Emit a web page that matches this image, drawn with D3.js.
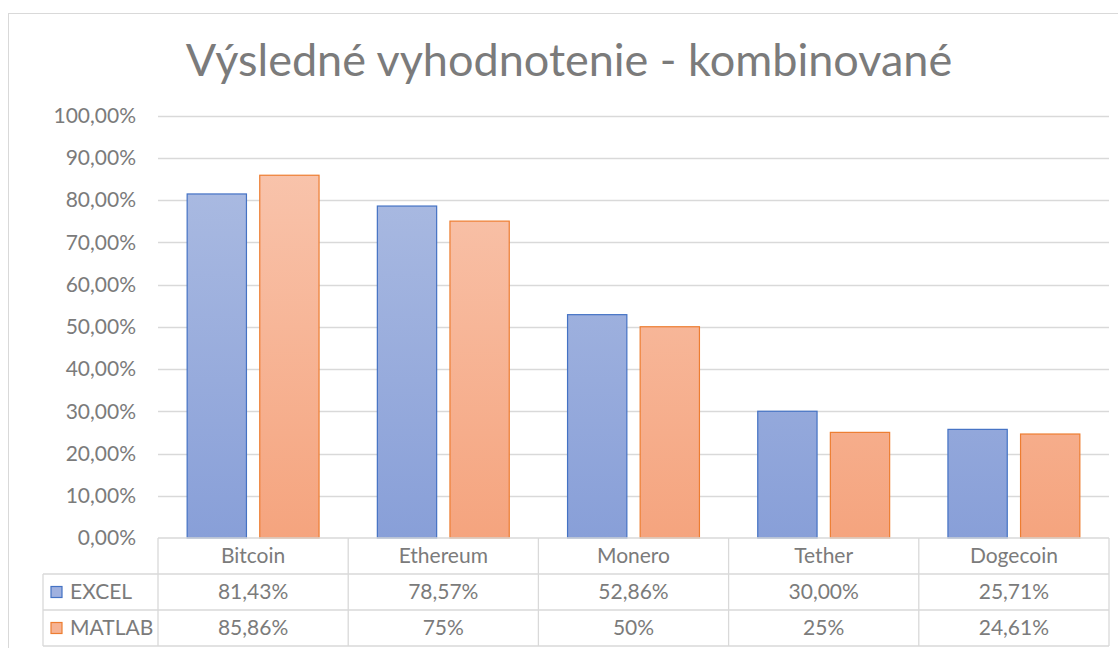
<!DOCTYPE html>
<html>
<head>
<meta charset="utf-8">
<script src="https://cdn.jsdelivr.net/npm/d3@7"></script>
<style>
  body { margin: 0; background: #fff; }
  text { font-family: Lato, "Open Sans", sans-serif; fill: #7b7b7b; }
</style>
</head>
<body>
<div id="chart"></div>
<script>
// data
var categories = ["Bitcoin", "Ethereum", "Monero", "Tether", "Dogecoin"];
var seriesNames = ["EXCEL", "MATLAB"];
var excelValues = [81.43, 78.57, 52.86, 30.00, 25.71];
var matlabValues = [85.86, 75, 50, 25, 24.61];
var excelLabels = ["81,43%", "78,57%", "52,86%", "30,00%", "25,71%"];
var matlabLabels = ["85,86%", "75%", "50%", "25%", "24,61%"];
var yTicks = [0, 10, 20, 30, 40, 50, 60, 70, 80, 90, 100];

var W = 1118, H = 648;
var plot = {left: 158, right: 1109, top: 115.5, bottom: 538};
var fontSize = "21px";

var svg = d3.select("#chart").append("svg")
  .attr("width", W).attr("height", H);

var defs = svg.append("defs");
function grad(id, top, bottom) {
  var g = defs.append("linearGradient").attr("id", id)
    .attr("x1", 0).attr("x2", 0)
    .attr("gradientUnits", "userSpaceOnUse")
    .attr("y1", plot.top).attr("y2", plot.bottom);
  g.append("stop").attr("offset", "0%").attr("stop-color", top);
  g.append("stop").attr("offset", "100%").attr("stop-color", bottom);
}
grad("gBlue", "#b0bfe3", "#889fd8");
grad("gOrange", "#f9c8b2", "#f5a47e");

// chart frame
svg.append("rect")
  .attr("x", 8.5).attr("y", 13.5).attr("width", W + 10).attr("height", H)
  .attr("fill", "none").attr("stroke", "#d9d9d9");

// title
svg.append("text")
  .attr("x", 569).attr("y", 76)
  .attr("text-anchor", "middle")
  .style("font-size", "45px")
  .text("Výsledné vyhodnotenie - kombinované");

var x0 = d3.scaleBand().domain(categories).range([plot.left, plot.right]);
var y = d3.scaleLinear().domain([0, 100]).range([plot.bottom, plot.top]);

// gridlines
svg.append("g").selectAll("line")
  .data(yTicks.slice(1))
  .join("line")
  .attr("x1", plot.left).attr("x2", plot.right)
  .attr("y1", d => Math.round(y(d)) + 0.5).attr("y2", d => Math.round(y(d)) + 0.5)
  .attr("stroke", "#d9d9d9").attr("stroke-width", 1.3);

// y axis labels
svg.append("g").selectAll("text")
  .data(yTicks)
  .join("text")
  .attr("x", 136).attr("y", d => y(d))
  .attr("dy", "0.35em")
  .attr("text-anchor", "end")
  .style("font-size", fontSize)
  .text(d => d.toFixed(2).replace(".", ",") + "%");

// bars
var barW = 59.3, gap = 13.3;
var offset = (x0.bandwidth() - 2 * barW - gap) / 2;
var series = [
  {name: seriesNames[0], values: excelValues, fill: "url(#gBlue)", key: "#a0b1df", stroke: "#4472c4"},
  {name: seriesNames[1], values: matlabValues, fill: "url(#gOrange)", key: "#f6b394", stroke: "#ed7d31"}
];
series.forEach(function (s, si) {
  svg.append("g").selectAll("rect")
    .data(s.values)
    .join("rect")
    .attr("x", (d, i) => x0(categories[i]) + offset + si * (barW + gap))
    .attr("y", d => y(d))
    .attr("width", barW)
    .attr("height", d => plot.bottom - y(d))
    .attr("fill", s.fill)
    .attr("stroke", s.stroke)
    .attr("stroke-width", 1.2);
});

// data table
var rowY = [538, 574, 610, 646];
var tableLeft = 43;
var tbl = svg.append("g").attr("stroke", "#d9d9d9").attr("stroke-width", 1.3);
tbl.append("line").attr("x1", plot.left).attr("x2", plot.right)
  .attr("y1", rowY[0]).attr("y2", rowY[0]);
[1, 2, 3].forEach(function (r) {
  tbl.append("line").attr("x1", tableLeft).attr("x2", plot.right)
    .attr("y1", rowY[r]).attr("y2", rowY[r]);
});
tbl.append("line").attr("x1", tableLeft).attr("x2", tableLeft)
  .attr("y1", rowY[1]).attr("y2", rowY[3]);
categories.forEach(function (c) {
  tbl.append("line").attr("x1", x0(c)).attr("x2", x0(c))
    .attr("y1", rowY[0]).attr("y2", rowY[3]);
});
tbl.append("line").attr("x1", plot.right).attr("x2", plot.right)
  .attr("y1", rowY[0]).attr("y2", rowY[3]);

// category header
svg.append("g").selectAll("text")
  .data(categories)
  .join("text")
  .attr("x", d => x0(d) + x0.bandwidth() / 2)
  .attr("y", (rowY[0] + rowY[1]) / 2)
  .attr("dy", "0.35em")
  .attr("text-anchor", "middle")
  .style("font-size", fontSize)
  .text(d => d);

// value rows
[excelLabels, matlabLabels].forEach(function (labels, r) {
  svg.append("g").selectAll("text")
    .data(labels)
    .join("text")
    .attr("x", (d, i) => x0(categories[i]) + x0.bandwidth() / 2)
    .attr("y", (rowY[r + 1] + rowY[r + 2]) / 2)
    .attr("dy", "0.35em")
    .attr("text-anchor", "middle")
    .style("font-size", fontSize)
    .text(d => d);
});

// legend keys in table
series.forEach(function (s, r) {
  var cy = (rowY[r + 1] + rowY[r + 2]) / 2;
  svg.append("rect")
    .attr("x", 51).attr("y", cy - 5.5)
    .attr("width", 11).attr("height", 11)
    .attr("fill", s.key)
    .attr("stroke", s.stroke).attr("stroke-width", 1.2);
  svg.append("text")
    .attr("x", 70).attr("y", cy)
    .attr("dy", "0.35em")
    .style("font-size", fontSize)
    .text(s.name);
});
</script>
</body>
</html>
